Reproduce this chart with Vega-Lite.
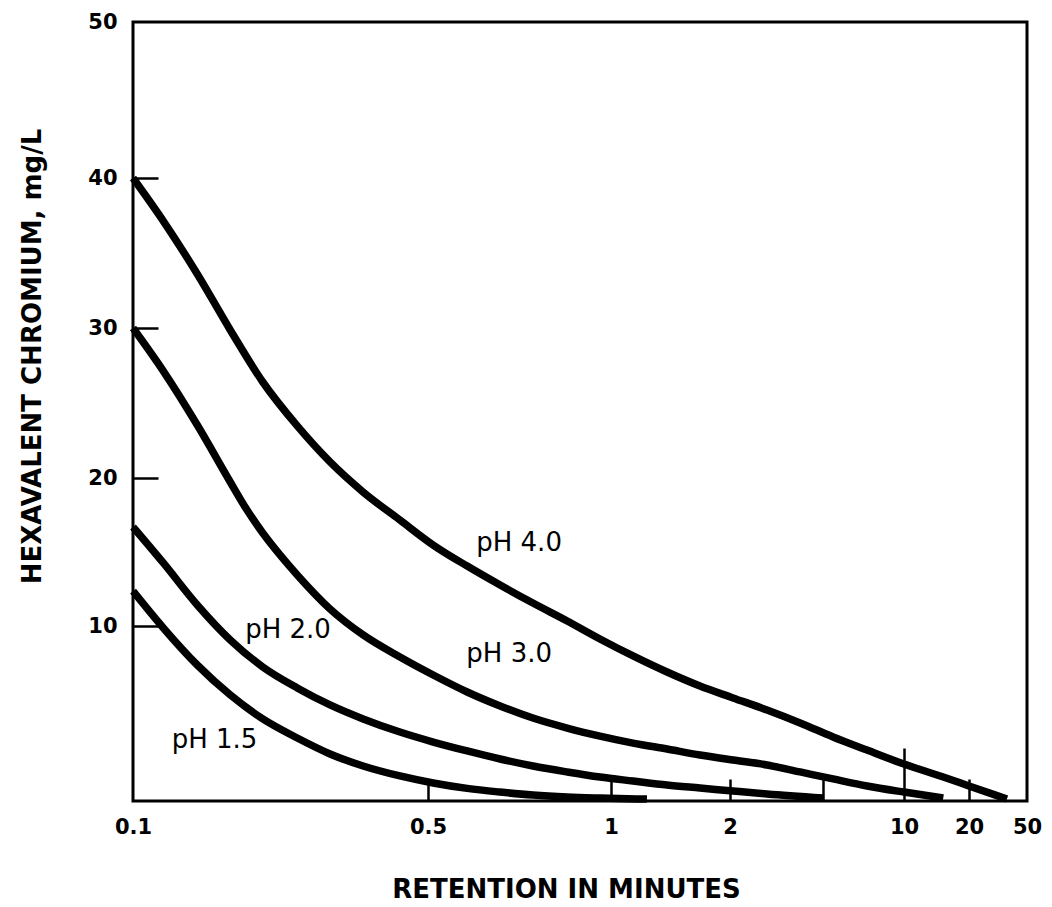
{
  "$schema": "https://vega.github.io/schema/vega-lite/v6.json",
  "width": 894,
  "height": 779,
  "autosize": {"type": "none"},
  "padding": {"left": 133, "top": 22, "right": 25, "bottom": 106},
  "background": "white",
  "config": {
    "view": {"stroke": "#000", "strokeWidth": 3},
    "font": "DejaVu Sans"
  },
  "datasets": {
    "curves": [
      {"ph": "pH 4.0", "t": 0.1, "cr": 40},
      {"ph": "pH 4.0", "t": 0.118, "cr": 37.13},
      {"ph": "pH 4.0", "t": 0.142, "cr": 33.6},
      {"ph": "pH 4.0", "t": 0.17, "cr": 29.87},
      {"ph": "pH 4.0", "t": 0.203, "cr": 26.4},
      {"ph": "pH 4.0", "t": 0.245, "cr": 23.47},
      {"ph": "pH 4.0", "t": 0.293, "cr": 21.07},
      {"ph": "pH 4.0", "t": 0.351, "cr": 19.05},
      {"ph": "pH 4.0", "t": 0.429, "cr": 17.16},
      {"ph": "pH 4.0", "t": 0.51, "cr": 15.47},
      {"ph": "pH 4.0", "t": 0.58, "cr": 14.05},
      {"ph": "pH 4.0", "t": 0.657, "cr": 12.77},
      {"ph": "pH 4.0", "t": 0.744, "cr": 11.55},
      {"ph": "pH 4.0", "t": 0.847, "cr": 10.34},
      {"ph": "pH 4.0", "t": 0.959, "cr": 9.26},
      {"ph": "pH 4.0", "t": 1.137, "cr": 8.29},
      {"ph": "pH 4.0", "t": 1.386, "cr": 7.37},
      {"ph": "pH 4.0", "t": 1.679, "cr": 6.57},
      {"ph": "pH 4.0", "t": 2.06, "cr": 5.89},
      {"ph": "pH 4.0", "t": 2.88, "cr": 5.2},
      {"ph": "pH 4.0", "t": 3.99, "cr": 4.46},
      {"ph": "pH 4.0", "t": 5.45, "cr": 3.66},
      {"ph": "pH 4.0", "t": 7.29, "cr": 2.91},
      {"ph": "pH 4.0", "t": 10, "cr": 2.11},
      {"ph": "pH 4.0", "t": 15.2, "cr": 1.37},
      {"ph": "pH 4.0", "t": 20, "cr": 0.86},
      {"ph": "pH 4.0", "t": 36.4, "cr": 0.11},

      {"ph": "pH 3.0", "t": 0.1, "cr": 30},
      {"ph": "pH 3.0", "t": 0.118, "cr": 27.13},
      {"ph": "pH 3.0", "t": 0.142, "cr": 23.53},
      {"ph": "pH 3.0", "t": 0.17, "cr": 19.73},
      {"ph": "pH 3.0", "t": 0.185, "cr": 17.97},
      {"ph": "pH 3.0", "t": 0.203, "cr": 16.28},
      {"ph": "pH 3.0", "t": 0.223, "cr": 14.8},
      {"ph": "pH 3.0", "t": 0.245, "cr": 13.45},
      {"ph": "pH 3.0", "t": 0.293, "cr": 11.15},
      {"ph": "pH 3.0", "t": 0.351, "cr": 9.49},
      {"ph": "pH 3.0", "t": 0.429, "cr": 8.23},
      {"ph": "pH 3.0", "t": 0.51, "cr": 7.2},
      {"ph": "pH 3.0", "t": 0.58, "cr": 6.23},
      {"ph": "pH 3.0", "t": 0.657, "cr": 5.43},
      {"ph": "pH 3.0", "t": 0.744, "cr": 4.74},
      {"ph": "pH 3.0", "t": 0.847, "cr": 4.17},
      {"ph": "pH 3.0", "t": 0.959, "cr": 3.71},
      {"ph": "pH 3.0", "t": 1.137, "cr": 3.31},
      {"ph": "pH 3.0", "t": 1.386, "cr": 2.97},
      {"ph": "pH 3.0", "t": 1.679, "cr": 2.63},
      {"ph": "pH 3.0", "t": 2.06, "cr": 2.34},
      {"ph": "pH 3.0", "t": 2.88, "cr": 2.06},
      {"ph": "pH 3.0", "t": 3.99, "cr": 1.66},
      {"ph": "pH 3.0", "t": 5.45, "cr": 1.26},
      {"ph": "pH 3.0", "t": 7.29, "cr": 0.86},
      {"ph": "pH 3.0", "t": 10, "cr": 0.51},
      {"ph": "pH 3.0", "t": 15.2, "cr": 0.17},

      {"ph": "pH 2.0", "t": 0.1, "cr": 16.69},
      {"ph": "pH 2.0", "t": 0.118, "cr": 14.26},
      {"ph": "pH 2.0", "t": 0.142, "cr": 11.42},
      {"ph": "pH 2.0", "t": 0.17, "cr": 9.2},
      {"ph": "pH 2.0", "t": 0.203, "cr": 7.66},
      {"ph": "pH 2.0", "t": 0.245, "cr": 6.46},
      {"ph": "pH 2.0", "t": 0.293, "cr": 5.49},
      {"ph": "pH 2.0", "t": 0.351, "cr": 4.69},
      {"ph": "pH 2.0", "t": 0.429, "cr": 3.94},
      {"ph": "pH 2.0", "t": 0.51, "cr": 3.37},
      {"ph": "pH 2.0", "t": 0.58, "cr": 2.86},
      {"ph": "pH 2.0", "t": 0.657, "cr": 2.4},
      {"ph": "pH 2.0", "t": 0.744, "cr": 2.0},
      {"ph": "pH 2.0", "t": 0.847, "cr": 1.66},
      {"ph": "pH 2.0", "t": 0.959, "cr": 1.37},
      {"ph": "pH 2.0", "t": 1.137, "cr": 1.14},
      {"ph": "pH 2.0", "t": 1.386, "cr": 0.91},
      {"ph": "pH 2.0", "t": 1.679, "cr": 0.74},
      {"ph": "pH 2.0", "t": 2.06, "cr": 0.57},
      {"ph": "pH 2.0", "t": 2.88, "cr": 0.4},
      {"ph": "pH 2.0", "t": 5, "cr": 0.17},

      {"ph": "pH 1.5", "t": 0.1, "cr": 12.36},
      {"ph": "pH 1.5", "t": 0.118, "cr": 9.89},
      {"ph": "pH 1.5", "t": 0.142, "cr": 7.77},
      {"ph": "pH 1.5", "t": 0.17, "cr": 6.06},
      {"ph": "pH 1.5", "t": 0.203, "cr": 4.69},
      {"ph": "pH 1.5", "t": 0.245, "cr": 3.6},
      {"ph": "pH 1.5", "t": 0.293, "cr": 2.69},
      {"ph": "pH 1.5", "t": 0.351, "cr": 2.0},
      {"ph": "pH 1.5", "t": 0.429, "cr": 1.43},
      {"ph": "pH 1.5", "t": 0.51, "cr": 1.03},
      {"ph": "pH 1.5", "t": 0.58, "cr": 0.72},
      {"ph": "pH 1.5", "t": 0.657, "cr": 0.51},
      {"ph": "pH 1.5", "t": 0.744, "cr": 0.34},
      {"ph": "pH 1.5", "t": 0.847, "cr": 0.23},
      {"ph": "pH 1.5", "t": 0.959, "cr": 0.17},
      {"ph": "pH 1.5", "t": 1.233, "cr": 0.11}
    ],
    "labels": [
      {"text": "pH 4.0", "t": 0.706, "cr": 15.1},
      {"text": "pH 3.0", "t": 0.68, "cr": 7.94},
      {"text": "pH 2.0", "t": 0.233, "cr": 9.31},
      {"text": "pH 1.5", "t": 0.156, "cr": 3.03}
    ]
  },
  "encoding": {
    "x": {
      "field": "t",
      "type": "quantitative",
      "scale": {
        "type": "log",
        "domain": [0.1, 0.5, 1, 2, 5, 10, 20, 50],
        "range": [0, 295, 478, 597, 690, 771, 836, 894],
        "nice": false
      },
      "axis": {
        "values": [0.1, 0.5, 1, 2, 5, 10, 20, 50],
        "domain": false,
        "grid": false,
        "tickColor": "#000",
        "tickWidth": 2.5,
        "tickSize": {"condition": {"test": "datum.value == 10", "value": -53}, "value": -22},
        "tickOpacity": {"condition": {"test": "datum.value == 0.1 || datum.value == 50", "value": 0}, "value": 1},
        "labelPadding": {"condition": {"test": "datum.value == 10", "value": 68}, "value": 37},
        "labelExpr": "datum.value == 5 ? '' : format(datum.value, '~g')",
        "labelFlush": false,
        "labelOverlap": false,
        "labelFont": "DejaVu Sans",
        "labelFontWeight": "bold",
        "labelFontSize": 21,
        "labelColor": "#000",
        "title": "RETENTION IN MINUTES",
        "titleFont": "DejaVu Sans",
        "titleFontWeight": "bold",
        "titleFontSize": 26,
        "titleColor": "#000",
        "titlePadding": 39,
        "titleX": 433
      }
    },
    "y": {
      "field": "cr",
      "type": "quantitative",
      "scale": {
        "domain": [0, 10, 20, 30, 40, 50],
        "range": [779, 604, 456, 306, 156, 0],
        "nice": false,
        "zero": false
      },
      "axis": {
        "values": [10, 20, 30, 40, 50],
        "domain": false,
        "grid": false,
        "tickColor": "#000",
        "tickWidth": 2.5,
        "tickSize": -25,
        "tickOpacity": {"condition": {"test": "datum.value == 50", "value": 0}, "value": 1},
        "labelPadding": 41,
        "labelFont": "DejaVu Sans",
        "labelFontWeight": "bold",
        "labelFontSize": 21,
        "labelColor": "#000",
        "title": "HEXAVALENT CHROMIUM, mg/L",
        "titleFont": "DejaVu Sans",
        "titleFontWeight": "bold",
        "titleFontSize": 26,
        "titleColor": "#000",
        "titlePadding": 42,
        "titleY": 334
      }
    }
  },
  "layer": [
    {
      "data": {"name": "curves"},
      "mark": {"type": "line", "stroke": "#000", "strokeWidth": 7.5, "interpolate": "monotone", "strokeCap": "butt"},
      "encoding": {"detail": {"field": "ph", "type": "nominal"}}
    },
    {
      "data": {"name": "labels"},
      "mark": {"type": "text", "font": "DejaVu Sans", "fontSize": 26, "align": "center", "baseline": "alphabetic", "fill": "#000"},
      "encoding": {"text": {"field": "text", "type": "nominal"}}
    }
  ]
}
